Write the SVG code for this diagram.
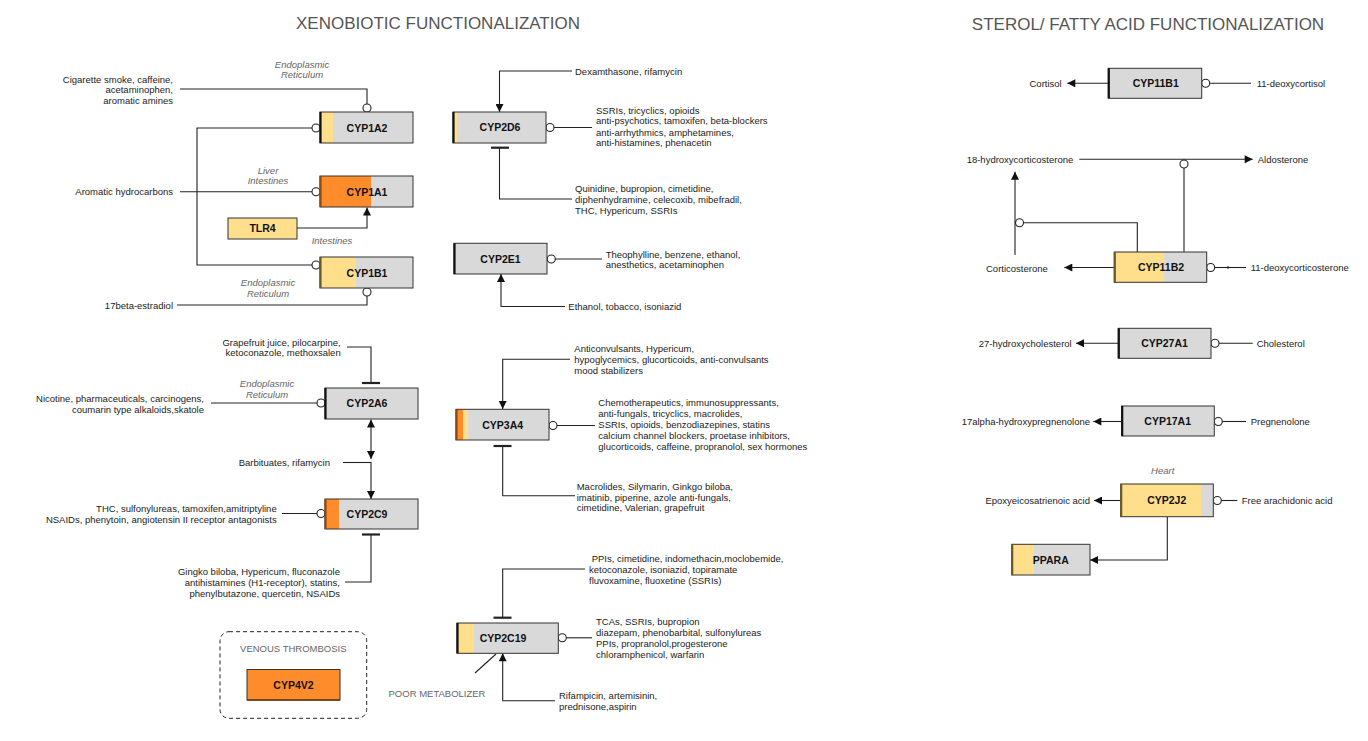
<svg xmlns="http://www.w3.org/2000/svg" width="1368" height="741" viewBox="0 0 1368 741">
<style>
text{font-family:"Liberation Sans",Arial,sans-serif;fill:#222;}
.t{font-size:9.5px;}
.r{text-anchor:end;}
.m{text-anchor:middle;}
.it{font-size:9.5px;font-style:italic;fill:#666;text-anchor:middle;}
.lbl{font-size:10.5px;font-weight:bold;text-anchor:middle;fill:#111;}
.title{font-size:17px;fill:#555;text-anchor:middle;}
.cap{font-size:9.5px;fill:#666;text-anchor:middle;}
.grey{fill:#d9d9d9;}
.yel{fill:#ffdf8c;}
.org{fill:#ff8c2a;}
.bd{fill:none;stroke:#333;stroke-width:1;}
.le{stroke:#111;stroke-width:2.2;}
.leo{stroke:#8a4a10;stroke-width:2.2;}
.c{fill:none;stroke:#222;stroke-width:1.1;}
.ci{fill:#fff;stroke:#222;stroke-width:1.1;}
.tb{stroke:#222;stroke-width:2.2;}
.a{marker-end:url(#arr);}
</style>
<defs>
<marker id="arr" viewBox="0 0 10 10" refX="10" refY="5" markerWidth="9" markerHeight="8" markerUnits="userSpaceOnUse" orient="auto-start-reverse">
<path d="M0,0 L10,5 L0,10 z" fill="#111"/>
</marker>
</defs>
<rect width="1368" height="741" fill="#fff"/>
<text class="title" x="438" y="29">XENOBIOTIC FUNCTIONALIZATION</text>
<text class="title" x="1148" y="30">STEROL/ FATTY ACID FUNCTIONALIZATION</text>

<g id="connectors">
<!-- CYP1A2 -->
<path class="c" d="M180,89 H367 V104"/>
<circle class="ci" cx="367" cy="108" r="4"/>
<path class="c" d="M312,128 H197 V265 H312"/>
<circle class="ci" cx="316" cy="128" r="4"/>
<circle class="ci" cx="316" cy="265" r="4"/>
<!-- CYP1A1 -->
<path class="c" d="M180,191.7 H312"/>
<circle class="ci" cx="316" cy="191.7" r="4"/>
<path class="c a" d="M297,228 H367 V207.5"/>
<!-- CYP1B1 -->
<path class="c" d="M367,296 V305 H177"/>
<circle class="ci" cx="367" cy="292" r="4"/>
<!-- CYP2A6 -->
<path class="c" d="M347,347 H371 V383"/>
<line class="tb" x1="362" y1="383" x2="380" y2="383"/>
<path class="c" d="M211,403 H317"/>
<circle class="ci" cx="321" cy="403" r="4"/>
<path class="c a" d="M371,459 V419.5" style="marker-start:url(#arr)"/>
<path class="c a" d="M371,462 V499"/>
<path class="c" d="M343,462.5 H371"/>
<!-- CYP2C9 -->
<path class="c" d="M282,513.5 H317"/>
<circle class="ci" cx="321" cy="513.5" r="4"/>
<line class="tb" x1="362" y1="534.5" x2="380" y2="534.5"/>
<path class="c" d="M371,534.5 V582 H345"/>
<!-- CYP2D6 -->
<path class="c a" d="M572,71 H499.5 V112"/>
<circle class="ci" cx="550" cy="127.5" r="4"/>
<path class="c" d="M554,127.5 H592"/>
<line class="tb" x1="491" y1="147.7" x2="509" y2="147.7"/>
<path class="c" d="M499.5,147.7 V199 H572"/>
<!-- CYP2E1 -->
<circle class="ci" cx="551.3" cy="259" r="4"/>
<path class="c" d="M555.3,259 H602"/>
<path class="c a" d="M565,306.5 H501 V274"/>
<!-- CYP3A4 -->
<path class="c a" d="M570,359.3 H502.7 V409"/>
<circle class="ci" cx="553" cy="425.5" r="4"/>
<path class="c" d="M557,425.5 H595"/>
<line class="tb" x1="493.5" y1="446" x2="511.5" y2="446"/>
<path class="c" d="M502.7,446 V495.7 H575"/>
<!-- CYP2C19 -->
<line class="tb" x1="493.5" y1="617.7" x2="511.5" y2="617.7"/>
<path class="c" d="M502.7,617.7 V569 H585"/>
<circle class="ci" cx="562.3" cy="637.8" r="4"/>
<path class="c" d="M566.3,637.8 H592"/>
<path class="c a" d="M555,700.7 H502.7 V653.3"/>
<path class="c" d="M475,673 L496,654"/>
<!-- CYP11B1 -->
<path class="c a" d="M1108,83.3 H1067.3"/>
<circle class="ci" cx="1205.7" cy="83.3" r="4"/>
<path class="c" d="M1209.7,83.3 H1251"/>
<!-- CYP11B2 -->
<path class="c a" d="M1079.3,159.3 H1252.7"/>
<circle class="ci" cx="1184" cy="164" r="4"/>
<path class="c" d="M1184,168 V252"/>
<path class="c a" d="M1015,255 V171.7"/>
<circle class="ci" cx="1019.5" cy="222.7" r="4"/>
<path class="c" d="M1023.5,222.7 H1137.3 V252"/>
<path class="c a" d="M1114,267.5 H1064.3"/>
<circle class="ci" cx="1210.7" cy="267.5" r="4"/>
<path class="c" d="M1214.7,267.5 H1246"/>
<rect x="1227" y="266.5" width="2" height="2" fill="#222"/>
<!-- CYP27A1 -->
<path class="c a" d="M1118,343.3 H1076"/>
<circle class="ci" cx="1215" cy="343.3" r="4"/>
<path class="c" d="M1219,343.3 H1252.7"/>
<!-- CYP17A1 -->
<path class="c a" d="M1121.7,421.5 H1093.3"/>
<circle class="ci" cx="1218.3" cy="421.5" r="4"/>
<path class="c" d="M1222.3,421.5 H1246"/>
<!-- CYP2J2 -->
<path class="c a" d="M1120.7,500.5 H1094"/>
<circle class="ci" cx="1217.3" cy="500.5" r="4"/>
<path class="c" d="M1221.3,500.5 H1237.3"/>
<path class="c a" d="M1167.3,516.7 V560 H1090"/>
</g>

<g id="labels">
<text class="t r" x="173"><tspan x="173" y="82.5">Cigarette smoke, caffeine,</tspan><tspan x="173" y="93">acetaminophen,</tspan><tspan x="173" y="103.5">aromatic amines</tspan></text>
<text class="it"><tspan x="302" y="67.5">Endoplasmic</tspan><tspan x="302" y="77.5">Reticulum</tspan></text>
<text class="t r" x="173" y="195">Aromatic hydrocarbons</text>
<text class="it"><tspan x="268" y="173.5">Liver</tspan><tspan x="268" y="183.5">Intestines</tspan></text>
<text class="it" x="332" y="243.5">Intestines</text>
<text class="it"><tspan x="268" y="285.5">Endoplasmic</tspan><tspan x="268" y="296.5">Reticulum</tspan></text>
<text class="t r" x="173" y="308.5">17beta-estradiol</text>
<text class="t r"><tspan x="340.7" y="345.5">Grapefruit juice, pilocarpine,</tspan><tspan x="340.7" y="356">ketoconazole, methoxsalen</tspan></text>
<text class="it"><tspan x="267" y="386.5">Endoplasmic</tspan><tspan x="267" y="397.5">Reticulum</tspan></text>
<text class="t r"><tspan x="204" y="401.5">Nicotine, pharmaceuticals, carcinogens,</tspan><tspan x="204" y="412.5">coumarin type alkaloids,skatole</tspan></text>
<text class="t r" x="330" y="466">Barbituates, rifamycin</text>
<text class="t r"><tspan x="276.7" y="511.5">THC, sulfonylureas, tamoxifen,amitriptyline</tspan><tspan x="276.7" y="522.5">NSAIDs, phenytoin, angiotensin II receptor antagonists</tspan></text>
<text class="t r"><tspan x="340" y="575">Gingko biloba, Hypericum, fluconazole</tspan><tspan x="340" y="585.5">antihistamines (H1-receptor), statins,</tspan><tspan x="340" y="596.5">phenylbutazone, quercetin, NSAIDs</tspan></text>
<text class="t" x="575" y="74.5">Dexamthasone, rifamycin</text>
<text class="t"><tspan x="596" y="113.5">SSRIs, tricyclics, opioids</tspan><tspan x="596" y="124.2">anti-psychotics, tamoxifen, beta-blockers</tspan><tspan x="596" y="135.5">anti-arrhythmics, amphetamines,</tspan><tspan x="596" y="146.2">anti-histamines, phenacetin</tspan></text>
<text class="t"><tspan x="575" y="191.8">Quinidine, bupropion, cimetidine,</tspan><tspan x="575" y="202.5">diphenhydramine, celecoxib, mibefradil,</tspan><tspan x="575" y="213.5">THC, Hypericum, SSRIs</tspan></text>
<text class="t"><tspan x="605.7" y="257.5">Theophylline, benzene, ethanol,</tspan><tspan x="605.7" y="267.5">anesthetics, acetaminophen</tspan></text>
<text class="t" x="568.3" y="309.5">Ethanol, tobacco, isoniazid</text>
<text class="t"><tspan x="574.3" y="351.8">Anticonvulsants, Hypericum,</tspan><tspan x="574.3" y="362.5">hypoglycemics, glucorticoids, anti-convulsants</tspan><tspan x="574.3" y="373.5">mood stabilizers</tspan></text>
<text class="t"><tspan x="598.3" y="406.2">Chemotherapeutics, immunosuppressants,</tspan><tspan x="598.3" y="416.8">anti-fungals, tricyclics, macrolides,</tspan><tspan x="598.3" y="427.5">SSRIs, opioids, benzodiazepines, statins</tspan><tspan x="598.3" y="438.5">calcium channel blockers, proetase inhibitors,</tspan><tspan x="598.3" y="449.5">glucorticoids, caffeine, propranolol, sex hormones</tspan></text>
<text class="t"><tspan x="576.7" y="489.5">Macrolides, Silymarin, Ginkgo biloba,</tspan><tspan x="576.7" y="500.5">imatinib, piperine, azole anti-fungals,</tspan><tspan x="576.7" y="511.2">cimetidine, Valerian, grapefruit</tspan></text>
<text class="t"><tspan x="591.7" y="561.8">PPIs, cimetidine, indomethacin,moclobemide,</tspan><tspan x="589" y="572.5">ketoconazole, isoniazid, topiramate</tspan><tspan x="589" y="583.5">fluvoxamine, fluoxetine (SSRIs)</tspan></text>
<text class="t"><tspan x="596" y="625.2">TCAs, SSRIs, bupropion</tspan><tspan x="596" y="635.5">diazepam, phenobarbital, sulfonylureas</tspan><tspan x="596" y="646.5">PPIs, propranolol,progesterone</tspan><tspan x="596" y="657.5">chloramphenicol, warfarin</tspan></text>
<text class="t"><tspan x="559" y="699.2">Rifampicin, artemisinin,</tspan><tspan x="559" y="709.5">prednisone,aspirin</tspan></text>
<text class="cap" x="437" y="696.8">POOR METABOLIZER</text>
<text class="t r" x="1061.7" y="86.8">Cortisol</text>
<text class="t" x="1256.7" y="86.8">11-deoxycortisol</text>
<text class="t r" x="1073.3" y="162.8">18-hydroxycorticosterone</text>
<text class="t" x="1257.7" y="162.8">Aldosterone</text>
<text class="t" x="986" y="271.5">Corticosterone</text>
<text class="t" x="1250.7" y="271">11-deoxycorticosterone</text>
<text class="t r" x="1071.7" y="346.8">27-hydroxycholesterol</text>
<text class="t" x="1256.7" y="346.8">Cholesterol</text>
<text class="t r" x="1090" y="425">17alpha-hydroxypregnenolone</text>
<text class="t" x="1250.7" y="425">Pregnenolone</text>
<text class="it" x="1162.7" y="473.5">Heart</text>
<text class="t r" x="1090" y="504">Epoxyeicosatrienoic acid</text>
<text class="t" x="1241.7" y="504">Free arachidonic acid</text>
</g>

<g id="CYP1A2"><rect class="grey" x="320" y="112" width="93" height="31"/><rect class="yel" x="320" y="112" width="13" height="31"/><rect class="bd" x="320" y="112" width="93" height="31"/><line class="le" x1="320.5" y1="112" x2="320.5" y2="143"/><text class="lbl" x="367" y="131.8">CYP1A2</text></g>
<g id="CYP1A1"><rect class="grey" x="320" y="176" width="93" height="31"/><rect class="org" x="320" y="176" width="51" height="31"/><rect class="bd" x="320" y="176" width="93" height="31"/><line class="leo" x1="320.5" y1="176" x2="320.5" y2="207"/><text class="lbl" x="367" y="195.5">CYP1A1</text></g>
<g id="TLR4"><rect class="yel" x="228" y="218" width="69" height="21"/><rect class="bd" x="228" y="218" width="69" height="21"/><text class="lbl" x="262.5" y="232.3">TLR4</text></g>
<g id="CYP1B1"><rect class="grey" x="320" y="257" width="93" height="31"/><rect class="yel" x="320" y="257" width="36" height="31"/><rect class="bd" x="320" y="257" width="93" height="31"/><line class="le" x1="320.5" y1="257" x2="320.5" y2="288" style="stroke:#6b5a2a"/><text class="lbl" x="367" y="276.5">CYP1B1</text></g>
<g id="CYP2A6"><rect class="grey" x="325" y="388" width="93" height="31"/><rect class="bd" x="325" y="388" width="93" height="31"/><line class="le" x1="325.5" y1="388" x2="325.5" y2="419"/><text class="lbl" x="367" y="407.3">CYP2A6</text></g>
<g id="CYP2C9"><rect class="grey" x="325" y="499" width="93" height="30"/><rect class="org" x="325" y="499" width="14" height="30"/><rect class="bd" x="325" y="499" width="93" height="30"/><line class="leo" x1="325.5" y1="499" x2="325.5" y2="529"/><text class="lbl" x="367" y="517.8">CYP2C9</text></g>
<g id="venous-thrombosis"><rect x="220" y="631.7" width="146.7" height="86.6" rx="9" fill="none" stroke="#222" stroke-width="1" stroke-dasharray="4,3"/><text class="cap" x="293.3" y="651.8">VENOUS THROMBOSIS</text></g>
<g id="CYP4V2"><rect class="org" x="247" y="669.5" width="93" height="30.5"/><rect class="bd" x="247" y="669.5" width="93" height="30.5"/><line x1="247" y1="700" x2="340" y2="700" stroke="#6b3a10" stroke-width="1.5"/><text class="lbl" x="293.5" y="688.5">CYP4V2</text></g>
<g id="CYP2D6"><rect class="grey" x="453" y="112" width="93" height="31"/><rect class="yel" x="453" y="112" width="4" height="31"/><rect class="bd" x="453" y="112" width="93" height="31"/><line class="le" x1="453.5" y1="112" x2="453.5" y2="143"/><text class="lbl" x="500" y="131.3">CYP2D6</text></g>
<g id="CYP2E1"><rect class="grey" x="454" y="243.3" width="93" height="30.7"/><rect class="bd" x="454" y="243.3" width="93" height="30.7"/><line class="le" x1="454.5" y1="243.3" x2="454.5" y2="274"/><text class="lbl" x="500.5" y="262.7">CYP2E1</text></g>
<g id="CYP3A4"><rect class="grey" x="456" y="409.3" width="93" height="30.7"/><rect class="yel" x="456" y="409.3" width="12" height="30.7"/><rect class="org" x="456" y="409.3" width="7" height="30.7"/><rect class="bd" x="456" y="409.3" width="93" height="30.7"/><line class="leo" x1="456.5" y1="409.3" x2="456.5" y2="440"/><text class="lbl" x="502.7" y="428.8">CYP3A4</text></g>
<g id="CYP2C19"><rect class="grey" x="457" y="623" width="101.3" height="30.3"/><rect class="yel" x="457" y="623" width="17" height="30.3"/><rect class="bd" x="457" y="623" width="101.3" height="30.3"/><line class="le" x1="457.5" y1="623" x2="457.5" y2="653.3"/><text class="lbl" x="503" y="641.8">CYP2C19</text></g>
<g id="CYP11B1"><rect class="grey" x="1108.3" y="68.3" width="93.4" height="30"/><rect class="bd" x="1108.3" y="68.3" width="93.4" height="30"/><line class="le" x1="1108.8" y1="68.3" x2="1108.8" y2="98.3"/><text class="lbl" x="1155.7" y="87.3">CYP11B1</text></g>
<g id="CYP11B2"><rect class="grey" x="1114.3" y="252" width="92.4" height="30.3"/><rect class="yel" x="1114.3" y="252" width="49.7" height="30.3"/><rect class="bd" x="1114.3" y="252" width="92.4" height="30.3"/><line class="le" x1="1114.8" y1="252" x2="1114.8" y2="282.3" style="stroke:#6b5a2a"/><text class="lbl" x="1161" y="271">CYP11B2</text></g>
<g id="CYP27A1"><rect class="grey" x="1118.3" y="328.3" width="92.7" height="30"/><rect class="bd" x="1118.3" y="328.3" width="92.7" height="30"/><line class="le" x1="1118.8" y1="328.3" x2="1118.8" y2="358.3"/><text class="lbl" x="1164.5" y="347.3">CYP27A1</text></g>
<g id="CYP17A1"><rect class="grey" x="1121.7" y="406" width="92.6" height="30"/><rect class="bd" x="1121.7" y="406" width="92.6" height="30"/><line class="le" x1="1122.2" y1="406" x2="1122.2" y2="436"/><text class="lbl" x="1167.7" y="425">CYP17A1</text></g>
<g id="CYP2J2"><rect class="grey" x="1120.7" y="484" width="92.6" height="32.7"/><rect class="yel" x="1120.7" y="484" width="80.3" height="32.7"/><rect class="bd" x="1120.7" y="484" width="92.6" height="32.7"/><line class="le" x1="1121.2" y1="484" x2="1121.2" y2="516.7" style="stroke:#6b5a2a"/><text class="lbl" x="1166.7" y="504">CYP2J2</text></g>
<g id="PPARA"><rect class="grey" x="1011.7" y="544.3" width="78.3" height="30.7"/><rect class="yel" x="1011.7" y="544.3" width="22.3" height="30.7"/><rect class="bd" x="1011.7" y="544.3" width="78.3" height="30.7"/><line class="le" x1="1012.2" y1="544.3" x2="1012.2" y2="575" style="stroke:#6b5a2a"/><text class="lbl" x="1050.8" y="563.8">PPARA</text></g>
</svg>
